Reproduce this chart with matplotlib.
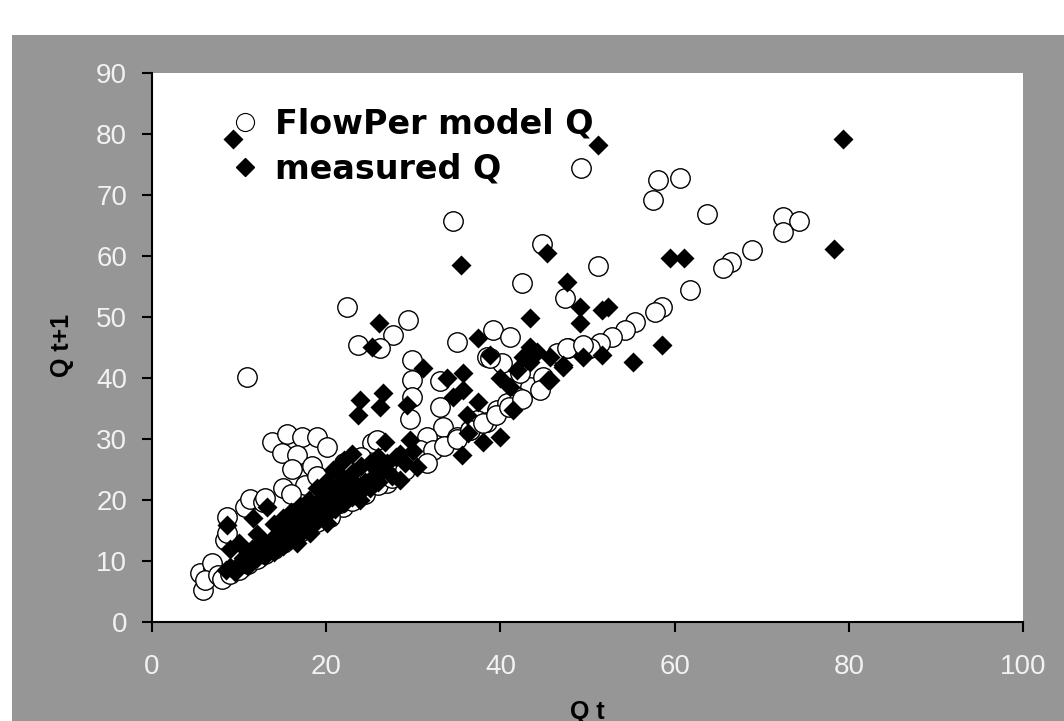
import matplotlib
matplotlib.use("Agg")
import matplotlib.pyplot as plt
from matplotlib.patches import Rectangle
from matplotlib.lines import Line2D

plt.rcParams['font.family'] = ['Liberation Sans', 'DejaVu Sans']

# FlowPer model Q (open circles): Q t, Q t+1
model_x = [10.9, 22.4, 34.6, 49.2, 44.8, 42.5, 51.2, 57.5, 58.1, 60.6, 63.7, 72.4, 74.3, 72.4,
           68.9, 66.5, 65.6, 61.8, 58.6, 57.7, 55.5, 54.3, 52.8, 51.4, 50.3, 47.8, 46.5, 47.4,
           29.4, 27.7, 23.7, 26.2, 29.9, 35.0, 39.1, 41.1, 29.9, 29.9, 29.6, 33.1, 33.1, 33.4,
           32.1, 25.3, 37.3, 43.4, 44.9, 40.2, 42.3, 38.5, 38.8, 39.6, 38.5, 41.9, 40.8, 36.5,
           35.0, 31.6, 30.8, 47.6, 49.5, 44.5,
           5.5, 5.9, 7.0, 6.9, 6.1, 7.6, 8.6, 8.4, 8.6, 10.7, 11.3, 12.8, 13.8, 15.5, 17.2, 18.9,
           14.9, 16.6, 16.1, 18.4, 20.1, 17.6, 17.3, 21.9, 21.6, 27.0, 25.8, 32.3, 13.0, 15.0,
           16.0, 19.0, 22.0, 23.0, 24.0,
           8.0, 9.0, 10.0, 11.0, 12.0, 13.0, 14.0, 15.0, 16.0, 17.0, 18.0, 19.0, 20.4, 23.0,
           24.5, 26.0, 27.5, 29.0, 31.6, 33.5, 35.0, 36.5, 38.0, 39.5, 41.0, 42.5]
model_y = [40.2, 51.6, 65.7, 74.5, 61.9, 55.5, 58.3, 69.2, 72.4, 72.8, 66.9, 66.4, 65.8, 63.9,
           61.0, 59.0, 58.0, 54.5, 51.7, 50.8, 49.2, 47.9, 46.7, 45.7, 44.9, 44.9, 44.1, 53.1,
           49.5, 47.0, 45.4, 44.9, 43.0, 45.9, 47.9, 46.8, 39.7, 36.9, 33.3, 39.5, 35.2, 32.0,
           28.5, 29.4, 33.1, 38.5, 40.2, 42.5, 40.8, 43.4, 43.3, 34.8, 32.8, 36.9, 35.9, 31.5,
           30.3, 30.3, 28.2, 44.9, 45.4, 38.0,
           8.0, 5.2, 9.0, 9.7, 6.9, 7.7, 17.2, 13.4, 14.6, 18.9, 20.2, 19.7, 29.5, 30.8, 30.3, 30.3,
           27.7, 27.3, 25.1, 25.5, 28.7, 22.5, 18.4, 18.9, 19.5, 22.8, 29.8, 28.2, 20.3, 22.0,
           21.0, 24.0, 26.0, 23.0, 27.0,
           7.0, 7.8, 8.6, 9.5, 10.3, 11.2, 12.0, 13.0, 13.8, 14.7, 15.5, 16.4, 17.2, 19.8,
           21.0, 22.4, 23.6, 25.0, 26.0, 28.8, 30.0, 31.4, 32.7, 34.0, 35.3, 36.5]

# measured Q (black diamonds)
meas_x = [9.3, 79.3, 51.2, 78.3, 35.5, 45.3, 59.5, 61.1, 47.6, 49.1, 51.7, 52.4, 49.1, 58.6,
          55.2, 51.7, 49.5, 47.2, 45.7, 45.5,
          26.1, 25.3, 31.1, 23.9, 23.6, 26.5, 26.2, 29.3, 29.6, 26.7, 37.4, 43.4, 38.8, 43.4,
          33.9, 35.7, 34.6, 35.7, 37.4, 36.2, 41.4, 38.0, 40.0, 35.6, 36.3, 40.0, 41.1, 43.4,
          45.7, 47.2, 42.6, 44.2, 43.0, 41.9,
          8.5, 9.0, 9.5, 10.0, 10.5, 11.0, 11.0, 11.5, 12.0, 12.0, 12.5, 13.0, 13.0, 13.5, 14.0,
          14.0, 14.5, 15.0, 15.0, 15.5, 16.0, 16.0, 16.5, 17.0, 17.0, 17.5, 18.0, 18.0, 18.5,
          19.0, 19.0, 19.5, 20.0, 20.0, 20.5, 21.0, 21.0, 21.5, 22.0, 22.0, 22.5, 23.0, 23.0,
          23.5, 24.0, 24.0, 24.5, 25.0, 25.0, 25.5, 26.0, 26.0, 26.5, 27.0, 27.5, 28.0, 28.5,
          29.0, 30.4, 21.0, 22.0, 23.0, 20.8, 25.8, 23.9, 18.0, 17.0, 9.0, 10.0, 8.6, 13.2,
          11.6, 16.6, 18.1, 20.1, 12.0, 14.0, 15.0, 16.0, 19.0, 20.0, 28.5, 30.0]
meas_y = [79.2, 79.2, 78.2, 61.1, 58.5, 60.5, 59.7, 59.7, 55.7, 51.6, 51.1, 51.6, 49.0, 45.4,
          42.6, 43.8, 43.4, 42.1, 43.4, 39.7,
          49.0, 45.1, 41.6, 36.4, 33.9, 37.5, 35.2, 35.6, 29.8, 29.5, 46.6, 49.8, 43.8, 45.1,
          40.0, 40.8, 36.9, 38.0, 36.1, 33.9, 34.8, 29.5, 30.3, 27.4, 31.0, 40.0, 38.5, 42.6,
          39.7, 41.8, 43.4, 44.3, 43.0, 41.3,
          8.5, 9.0, 8.2, 9.5, 10.5, 9.2, 11.0, 12.0, 10.5, 12.5, 11.5, 13.0, 10.8, 12.0, 14.0,
          11.5, 13.0, 15.0, 12.5, 14.0, 16.5, 13.5, 15.0, 17.5, 14.5, 16.0, 18.5, 15.5, 17.0,
          19.5, 16.5, 18.0, 21.0, 17.5, 19.5, 22.0, 18.5, 20.5, 23.5, 19.5, 21.5, 24.5, 20.5,
          22.5, 25.5, 21.5, 23.0, 26.0, 22.0, 24.0, 27.0, 23.0, 25.0, 26.0, 24.0, 27.0, 23.3,
          26.0, 25.4, 25.0, 26.5, 27.5, 24.9, 24.9, 20.0, 20.0, 19.0, 12.0, 13.0, 15.9, 18.9,
          17.0, 13.0, 14.6, 16.2, 14.5, 16.0, 17.0, 18.0, 22.0, 23.0, 27.5, 28.0]

x_ticks = [0, 20, 40, 60, 80, 100]
y_ticks = [0, 10, 20, 30, 40, 50, 60, 70, 80, 90]

fig = plt.figure(figsize=(10.64, 7.21), dpi=100, facecolor='white')
fig.patches.append(Rectangle((12 / 1064, 0), 1, (721 - 35) / 721, transform=fig.transFigure,
                             facecolor='#969696', edgecolor='none', zorder=-10))
ax = fig.add_axes([152 / 1064, 1 - 622 / 721, (1023 - 152) / 1064, (622 - 73) / 721])
ax.set_facecolor('white')

ax.scatter(model_x, model_y, s=14 ** 2, marker='o', facecolors='white', edgecolors='black',
           linewidths=1.0, zorder=3, clip_on=False)
ax.scatter(meas_x, meas_y, s=10.2 ** 2, marker='D', color='black', linewidths=0, zorder=4,
           clip_on=False)

ax.set_xlim(0, 100)
ax.set_ylim(0, 90)
ax.set_xticks(x_ticks)
ax.set_yticks(y_ticks)
for s in ['top', 'right']:
    ax.spines[s].set_visible(False)
for s in ['left', 'bottom']:
    ax.spines[s].set_linewidth(1.5)
ax.tick_params(direction='out', length=7, width=1.5, colors='black', labelcolor='#f2f2f2',
               labelsize=20)
ax.tick_params(axis='y', pad=11)
ax.tick_params(axis='x', pad=16)

fig.text(62 / 1064, 1 - 345 / 721, 'Q t+1', rotation=90, ha='center', va='center',
         fontsize=18, fontweight='bold', color='black')
fig.text(587 / 1064, 1 - 700 / 721, 'Q t', ha='center', va='top',
         fontsize=18, fontweight='bold', color='black')

handles = [Line2D([], [], marker='o', linestyle='none', markersize=13, markerfacecolor='white',
                  markeredgecolor='black', markeredgewidth=0.8),
           Line2D([], [], marker='D', linestyle='none', markersize=9, color='black')]
ax.legend(handles, ['FlowPer model Q', 'measured Q'], loc='upper left',
          bbox_to_anchor=((235 - 152) / 871, 1 - 35 / 549), frameon=False, handlelength=0.6,
          handletextpad=0.6, labelspacing=0.35, borderaxespad=0, borderpad=0,
          prop={'family': 'DejaVu Sans', 'weight': 'bold', 'size': 24})

fig.savefig('out.png', dpi=100, facecolor=fig.get_facecolor())
